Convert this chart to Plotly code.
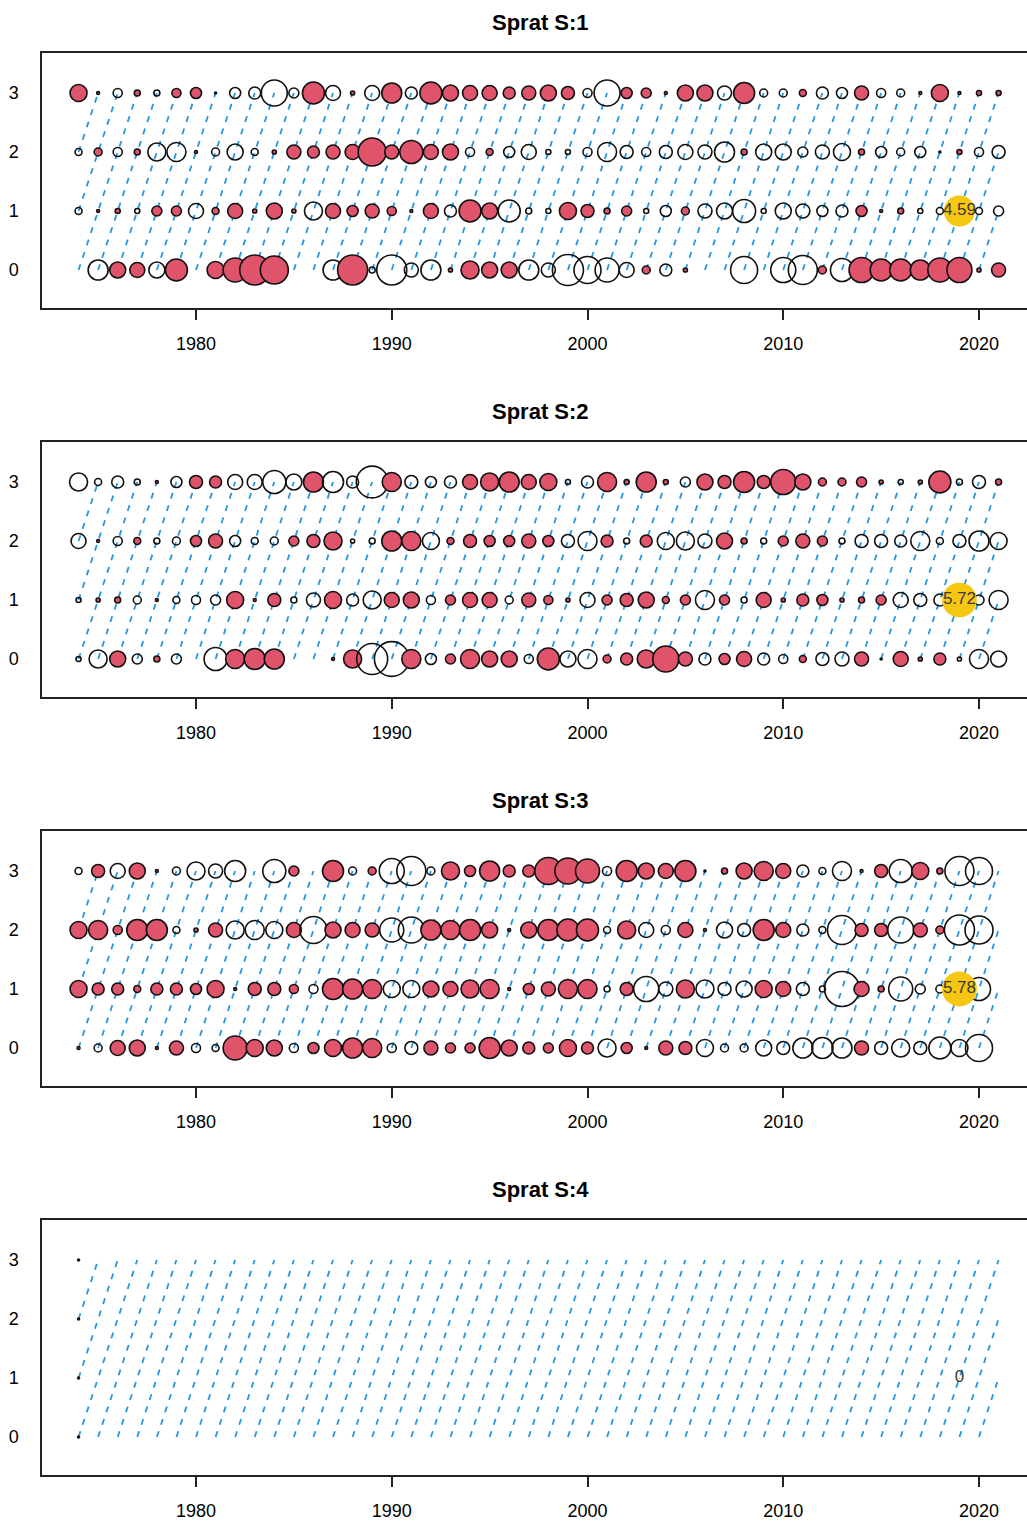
import math
import plotly.graph_objects as go

# Survey index residuals by year and age for four sprat surveys
years = list(range(1974, 2022))
ages = [0, 1, 2, 3]
titles = ["Sprat S:1", "Sprat S:2", "Sprat S:3", "Sprat S:4"]

# ---- Sprat S:1 ----
s1_age0 = [None, -1.90, 1.22, 1.07, -1.22, 2.30, None, 1.37, 2.74, 4.28,
           3.73, None, None, -1.90, 4.28, -0.17, -4.28, -0.93, -1.90, 0.08,
           1.54, 1.22, 1.22, -1.90, -0.93, -4.59, -3.47, -2.74, -1.07, 0.30,
           -0.68, 0.08, None, None, -3.47, None, -2.97, -4.00, 0.30, -2.52,
           2.97, 2.30, 2.30, 1.90, 2.74, 2.97, 0.08, 0.93]
s1_age1 = [-0.23, 0.04, 0.12, -0.12, 0.48, 0.48, -1.07, 0.23, 1.07, 0.08,
           1.22, 0.08, -1.54, 1.07, 0.58, 0.93, 0.39, 0.04, 1.07, -0.68,
           2.30, 1.22, -2.30, -0.17, -0.12, 1.37, 0.80, 0.17, 0.48, -0.12,
           -0.58, 0.30, -0.93, -1.22, -2.52, -0.12, -1.22, -0.93, -0.58, -0.68,
           0.58, 0.04, 0.17, -0.12, -0.23, -0.48, -0.23, -0.48]
s1_age2 = [-0.23, 0.30, -0.39, 0.17, -1.54, -1.72, 0.04, -0.30, -1.22, -0.23,
           0.08, 0.93, 0.68, 0.93, 1.07, 3.73, 0.93, 2.52, 1.07, 1.22,
           -0.39, 0.23, -0.58, -1.07, -0.12, -0.12, -0.39, -1.72, -0.80, -0.39,
           -0.80, -1.07, -0.93, -1.90, 0.17, -1.22, -1.22, -0.48, -0.93, -1.37,
           0.17, -0.58, -0.30, -0.58, -0.02, 0.12, -0.39, -0.80]
s1_age3 = [1.37, 0.04, -0.39, 0.17, -0.17, 0.39, 0.58, -0.02, -0.58, -0.68,
           -3.22, -0.48, 2.30, -1.07, 0.08, -1.07, 1.90, -0.68, 2.30, 1.22,
           1.07, 1.07, 0.68, 0.93, 1.22, 0.80, -0.39, -3.22, 0.58, 0.48,
           0.04, 1.22, 1.22, -0.93, 2.10, -0.30, -0.30, 0.23, -0.68, -0.58,
           0.93, -0.39, -0.30, 0.04, 1.37, 0.04, 0.12, 0.12]

# ---- Sprat S:2 ----
s2_age0 = [-0.12, -1.54, 1.22, -0.48, 0.17, -0.48, None, -2.52, 1.72, 2.10,
           1.90, None, None, 0.04, 1.54, -4.57, -5.72, 1.72, -0.58, 0.48,
           1.72, 1.22, 1.22, -0.39, 2.30, -1.22, -1.72, 0.30, 0.68, 1.54,
           3.22, 0.93, -0.68, 0.58, 1.07, -0.68, -0.39, 0.23, -0.80, -0.93,
           0.93, 0.02, 1.07, 0.08, 0.68, -0.08, -1.72, -1.22]
s2_age1 = [-0.12, 0.08, 0.17, -0.30, 0.04, -0.23, -0.39, -0.48, 1.37, 0.04,
           0.80, -0.17, -0.93, 1.37, -0.68, -1.54, 1.07, 1.22, -0.39, 0.48,
           1.07, 1.07, -0.30, 0.93, 0.39, 0.08, -1.07, 0.48, 0.80, 1.22,
           0.23, 0.48, -1.72, 0.48, -0.17, 1.07, 0.08, 0.68, 0.58, 0.08,
           0.17, 0.48, -1.07, -0.80, -0.68, -0.48, -0.48, -1.72]
s2_age2 = [-1.07, 0.04, -0.39, 0.23, -0.17, -0.30, 0.58, 0.93, -0.58, -0.23,
           -0.30, 0.48, 0.80, 1.54, -0.08, -0.17, 1.90, 1.72, -1.37, 0.23,
           0.80, 0.58, 0.58, 0.93, 0.58, -0.80, -1.72, 0.68, -0.17, 0.68,
           -1.37, -1.54, -0.93, 1.22, 0.17, -0.17, 0.48, 0.93, 0.48, -0.17,
           -0.80, -0.80, -0.68, -1.72, -0.23, -0.80, -1.90, -1.37]
s2_age3 = [-1.54, -0.23, -0.68, -0.17, 0.04, -0.58, 0.80, 0.68, -1.07, -1.07,
           -2.52, -1.22, 1.90, -2.10, -0.68, -4.80, 1.72, -0.80, -0.58, -0.68,
           1.07, 1.54, 1.90, 1.07, 1.37, -0.12, -0.68, 1.72, 0.12, 1.90,
           0.12, -0.48, 1.22, 0.80, 2.10, 0.80, 2.97, 1.22, 0.30, 0.30,
           0.48, 0.08, -0.12, 0.08, 2.30, -0.17, -0.80, 0.17]

# ---- Sprat S:3 ----
s3_age0 = [0.04, -0.30, 1.07, 1.22, 0.04, 0.93, -0.39, -0.23, 2.74, 1.37,
           1.22, -0.39, 0.58, 1.37, 1.90, 1.72, -0.39, -0.80, 0.93, 0.48,
           0.48, 2.10, 1.22, 0.68, 0.48, 1.37, 0.68, -1.54, 0.58, 0.04,
           0.93, 0.80, -1.37, -0.30, -0.30, -1.22, -0.80, -1.90, -2.10, -1.90,
           0.93, -0.80, -1.54, -0.80, -2.30, -1.37, -3.47, None]
s3_age1 = [1.37, 0.68, 0.68, 0.23, 0.68, 0.68, 0.58, 1.37, 0.04, 0.80,
           0.80, 0.39, -0.39, 2.10, 1.90, 1.72, -1.37, -1.37, 1.22, 1.07,
           1.54, 1.72, 0.04, 0.58, 0.93, 1.72, 1.72, -0.17, 0.80, -2.97,
           -0.93, 1.54, -1.54, -0.80, -1.22, 1.37, 1.07, -0.80, -0.17, -5.78,
           1.07, 0.17, -2.74, -0.48, -0.30, -0.48, -2.52, None]
s3_age2 = [1.37, 1.72, 0.39, 2.10, 2.10, -0.23, 0.08, 0.93, -1.54, -1.72,
           -1.37, 1.07, -3.47, 1.22, 1.07, 0.93, -2.74, -3.22, 1.90, 1.72,
           2.10, 1.22, 0.04, 1.22, 2.10, 2.30, 2.30, -0.23, 1.54, -1.07,
           -0.39, 1.07, 0.04, -1.22, -0.80, 2.10, 1.07, -0.68, -0.23, -4.00,
           0.80, 0.80, -3.22, 0.93, 0.30, -4.28, -3.73, None]
s3_age3 = [-0.23, 0.80, -1.07, 1.22, 0.04, -0.30, -1.54, -0.93, -2.10, None,
           -2.52, 0.48, None, 2.10, -0.30, 0.30, -2.97, -4.00, -0.30, 1.54,
           0.58, 1.90, 0.68, 0.68, 3.47, 3.22, 2.74, -0.39, 2.10, 1.22,
           1.07, 2.10, 0.02, 0.17, 1.22, 1.72, 1.07, -0.68, -0.23, -1.72,
           0.04, 0.80, -2.52, 1.37, 0.17, -4.00, -3.47, None]

# ---- Sprat S:4 (only 1974 observed) ----
s4_age0 = [0.0] + [None] * 47
s4_age1 = [0.0] + [None] * 47
s4_age2 = [0.0] + [None] * 47
s4_age3 = [0.0] + [None] * 47

panels = [
    [s1_age0, s1_age1, s1_age2, s1_age3],
    [s2_age0, s2_age1, s2_age2, s2_age3],
    [s3_age0, s3_age1, s3_age2, s3_age3],
    [s4_age0, s4_age1, s4_age2, s4_age3],
]

# Largest absolute residual per survey, shown as a reference bubble
max_resid = [4.59, 5.72, 5.78, 0]
ref_year, ref_age = 2019, 1

POS = "#DF536B"
REF = "#F5C710"
COHORT = "#2297E6"
FONT = "Liberation Sans, Arial, sans-serif"
K = 14.5  # bubble diameter per sqrt(|residual|)


def bubble_size(v):
    return max(2.0, K * math.sqrt(abs(v)))


W, H = 1027, 1521
PLOT_L = 42
TOP0, PANEL_H, STEP = 53, 255, 389

fig = go.Figure()
layout = dict(
    width=W, height=H,
    margin=dict(l=0, r=0, t=0, b=0),
    paper_bgcolor="white", plot_bgcolor="white",
    showlegend=False,
    annotations=[],
)

for i, (panel, title) in enumerate(zip(panels, titles)):
    n = "" if i == 0 else str(i + 1)
    xa, ya = "x" + n, "y" + n
    top = TOP0 + STEP * i
    bottom = top + PANEL_H

    # cohort lines: year - age constant
    cx, cy = [], []
    for c in range(years[0] - ages[-1], years[-1] + 1):
        seg = [(c + a, a) for a in ages if years[0] <= c + a <= years[-1]]
        if len(seg) < 2:
            continue
        for yr, a in seg:
            cx.append(yr)
            cy.append(a)
        cx.append(None)
        cy.append(None)
    fig.add_trace(go.Scatter(
        x=cx, y=cy, mode="lines", xaxis=xa, yaxis=ya, hoverinfo="skip",
        line=dict(color=COHORT, width=1.8, dash="6px,7px"),
    ))

    # residual bubbles: filled = positive, open = negative
    bx, by, bs, bc = [], [], [], []
    for a, vals in zip(ages, panel):
        for yr, v in zip(years, vals):
            if v is None:
                continue
            bx.append(yr)
            by.append(a)
            bs.append(bubble_size(v))
            bc.append(POS if v > 0 else "rgba(0,0,0,0)")
    fig.add_trace(go.Scatter(
        x=bx, y=by, mode="markers", xaxis=xa, yaxis=ya,
        marker=dict(size=bs, color=bc, opacity=1,
                    line=dict(color="#111", width=1.6)),
    ))

    # reference bubble for the largest residual
    m = max_resid[i]
    fig.add_trace(go.Scatter(
        x=[ref_year], y=[ref_age], mode="markers+text", xaxis=xa, yaxis=ya,
        marker=dict(size=bubble_size(m), color=REF, opacity=1,
                    line=dict(width=0)),
        text=[f"{m:g}"], textposition="middle center",
        textfont=dict(family=FONT, size=17, color="#3a3a3a"),
    ))

    layout["xaxis" + n] = dict(
        domain=[PLOT_L / W, 1], anchor=ya,
        range=[1972.133, 2022.452],
        tickvals=[1980, 1990, 2000, 2010, 2020],
        ticks="outside", ticklen=10, tickwidth=1.5, tickcolor="#222",
        ticklabelstandoff=9,
        showline=True, linecolor="#222", linewidth=1.5, mirror=True,
        showgrid=False, zeroline=False,
        tickfont=dict(family=FONT, size=18, color="black"),
    )
    layout["yaxis" + n] = dict(
        domain=[1 - bottom / H, 1 - top / H], anchor=xa,
        range=[-0.644, 3.678],
        tickvals=[0, 1, 2, 3], ticks="",
        ticklabelstandoff=18,
        showline=True, linecolor="#222", linewidth=1.5, mirror=False,
        showgrid=False, zeroline=False,
        tickfont=dict(family=FONT, size=18, color="black"),
    )
    layout["annotations"].append(dict(
        text=f"<b>{title}</b>", xref="paper", yref="paper",
        x=540 / W, y=1 - (22 + STEP * i) / H,
        xanchor="center", yanchor="middle", showarrow=False,
        font=dict(family=FONT, size=22, color="black"),
    ))

fig.update_layout(**layout)
fig.write_html("out.html")
